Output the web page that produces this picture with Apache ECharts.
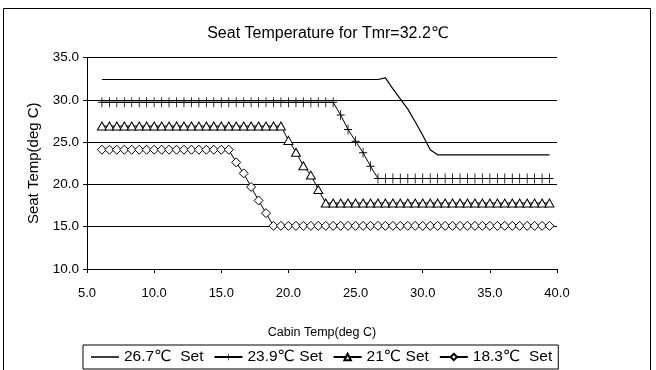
<!DOCTYPE html>
<html>
<head>
<meta charset="utf-8">
<script src="https://cdn.jsdelivr.net/npm/echarts@6/dist/echarts.min.js"></script>
<style>
html,body{margin:0;padding:0;background:#fff;}
#chart{width:656px;height:370px;}
</style>
</head>
<body>
<div id="chart"></div>
<script>
// Cabin temperature (deg C) - x values
var cabinTemp = [
  6.11, 6.67, 7.22, 7.78, 8.33, 8.89, 9.44, 10.00, 10.56, 11.11,
  11.67, 12.22, 12.78, 13.33, 13.89, 14.44, 15.00, 15.56, 16.11, 16.67,
  17.22, 17.78, 18.33, 18.89, 19.44, 20.00, 20.56, 21.11, 21.67, 22.22,
  22.78, 23.33, 23.89, 24.44, 25.00, 25.56, 26.11, 26.67, 27.22, 27.78,
  28.33, 28.89, 29.44, 30.00, 30.56, 31.11, 31.67, 32.22, 32.78, 33.33,
  33.89, 34.44, 35.00, 35.56, 36.11, 36.67, 37.22, 37.78, 38.33, 38.89,
  39.44
];
// Seat temperature for 26.7°C set
var set267 = [
  32.4, 32.4, 32.4, 32.4, 32.4, 32.4, 32.4, 32.4, 32.4, 32.4,
  32.4, 32.4, 32.4, 32.4, 32.4, 32.4, 32.4, 32.4, 32.4, 32.4,
  32.4, 32.4, 32.4, 32.4, 32.4, 32.4, 32.4, 32.4, 32.4, 32.4,
  32.4, 32.4, 32.4, 32.4, 32.4, 32.4, 32.4, 32.4, 32.6, 31.3,
  30.1, 28.9, 27.4, 25.8, 24.1, 23.5, 23.5, 23.5, 23.5, 23.5,
  23.5, 23.5, 23.5, 23.5, 23.5, 23.5, 23.5, 23.5, 23.5, 23.5,
  23.5
];
// Seat temperature for 23.9°C set
var set239 = [
  29.7, 29.7, 29.7, 29.7, 29.7, 29.7, 29.7, 29.7, 29.7, 29.7,
  29.7, 29.7, 29.7, 29.7, 29.7, 29.7, 29.7, 29.7, 29.7, 29.7,
  29.7, 29.7, 29.7, 29.7, 29.7, 29.7, 29.7, 29.7, 29.7, 29.7,
  29.7, 29.7, 28.2, 26.5, 25.1, 23.75, 22.15, 20.7, 20.7, 20.7,
  20.7, 20.7, 20.7, 20.7, 20.7, 20.7, 20.7, 20.7, 20.7, 20.7,
  20.7, 20.7, 20.7, 20.7, 20.7, 20.7, 20.7, 20.7, 20.7, 20.7,
  20.7
];
// Seat temperature for 21°C set
var set21 = [
  26.9, 26.9, 26.9, 26.9, 26.9, 26.9, 26.9, 26.9, 26.9, 26.9,
  26.9, 26.9, 26.9, 26.9, 26.9, 26.9, 26.9, 26.9, 26.9, 26.9,
  26.9, 26.9, 26.9, 26.9, 26.9, 25.2, 23.8, 22.2, 21.1, 19.4,
  17.8, 17.8, 17.8, 17.8, 17.8, 17.8, 17.8, 17.8, 17.8, 17.8,
  17.8, 17.8, 17.8, 17.8, 17.8, 17.8, 17.8, 17.8, 17.8, 17.8,
  17.8, 17.8, 17.8, 17.8, 17.8, 17.8, 17.8, 17.8, 17.8, 17.8,
  17.8
];
// Seat temperature for 18.3°C set
var set183 = [
  24.1, 24.1, 24.1, 24.1, 24.1, 24.1, 24.1, 24.1, 24.1, 24.1,
  24.1, 24.1, 24.1, 24.1, 24.1, 24.1, 24.1, 24.1, 22.6, 21.3,
  19.7, 18.1, 16.6, 15.1, 15.1, 15.1, 15.1, 15.1, 15.1, 15.1,
  15.1, 15.1, 15.1, 15.1, 15.1, 15.1, 15.1, 15.1, 15.1, 15.1,
  15.1, 15.1, 15.1, 15.1, 15.1, 15.1, 15.1, 15.1, 15.1, 15.1,
  15.1, 15.1, 15.1, 15.1, 15.1, 15.1, 15.1, 15.1, 15.1, 15.1,
  15.1
];
var seriesNames = ['26.7\u2103  Set', '23.9\u2103 Set', '21\u2103 Set', '18.3\u2103  Set'];
var titleText = 'Seat Temperature for Tmr=32.2\u2103';
var xAxisName = 'Cabin Temp(deg C)';
var yAxisName = 'Seat Temp(deg C)';

function pairs(ys) {
  var out = [];
  for (var i = 0; i < cabinTemp.length; i++) out.push([cabinTemp[i], ys[i]]);
  return out;
}

var FONT = '"Liberation Sans", Arial, "DejaVu Sans", sans-serif';
var plusPath = 'path://M4.5,0h1v10h-1z M0,4.5h10v1h-10z';
// plain line icon for the marker-less series (tiny corner dots fix the bounding box)
var lineIcon = 'path://M0,0h0.01v0.01h-0.01z M0,3.3h28v1.4h-28z M27.99,7.99h0.01v0.01h-0.01z';

var chart = echarts.init(document.getElementById('chart'), null, {renderer: 'canvas'});
chart.setOption({
  backgroundColor: '#fff',
  animation: false,
  graphic: [{
    type: 'rect',
    shape: {x: 3.5, y: 8.5, width: 647, height: 380},
    style: {fill: 'none', stroke: '#000', lineWidth: 1},
    silent: true
  }],
  title: {
    text: titleText,
    left: 'center',
    top: 21,
    textStyle: {fontFamily: FONT, fontSize: 16, fontWeight: 'normal', color: '#000'}
  },
  legend: {
    left: 83,
    top: 345,
    padding: [4, 6, 4, 8],
    borderColor: '#000',
    borderWidth: 1,
    itemWidth: 28,
    itemHeight: 8,
    itemGap: 10,
    textStyle: {fontFamily: FONT, fontSize: 15.5, color: '#000'},
    data: [
      {name: seriesNames[0], icon: lineIcon, itemStyle: {color: '#000'}},
      seriesNames[1], seriesNames[2], seriesNames[3]
    ]
  },
  grid: {left: 87, right: 99, top: 57.5, bottom: 101, containLabel: false},
  xAxis: {
    type: 'value',
    min: 5, max: 40, interval: 5,
    name: xAxisName,
    nameLocation: 'middle',
    nameGap: 57,
    nameTextStyle: {fontFamily: FONT, fontSize: 12.5, color: '#000'},
    axisLine: {show: true, lineStyle: {color: '#000', width: 1}},
    axisTick: {show: true, length: 4, lineStyle: {color: '#000'}},
    axisLabel: {fontFamily: FONT, fontSize: 13, color: '#000', margin: 18,
      formatter: function (v) { return v.toFixed(1); }},
    splitLine: {show: false}
  },
  yAxis: {
    type: 'value',
    min: 10, max: 35, interval: 5,
    name: yAxisName,
    nameLocation: 'middle',
    nameGap: 46,
    nameTextStyle: {fontFamily: FONT, fontSize: 15, color: '#000'},
    axisLine: {show: true, lineStyle: {color: '#000', width: 1}},
    axisTick: {show: true, length: 4, lineStyle: {color: '#000'}},
    axisLabel: {fontFamily: FONT, fontSize: 13.5, color: '#000', margin: 8,
      formatter: function (v) { return v.toFixed(1); }},
    splitLine: {show: true, lineStyle: {color: '#000', width: 1}}
  },
  series: [
    {
      name: seriesNames[0], type: 'line', data: pairs(set267),
      symbol: 'none', showSymbol: false,
      lineStyle: {color: '#000', width: 1.2},
      itemStyle: {color: '#000'}
    },
    {
      name: seriesNames[1], type: 'line', data: pairs(set239),
      symbol: plusPath, symbolSize: [8, 10],
      lineStyle: {color: '#000', width: 1},
      itemStyle: {color: '#000'}
    },
    {
      name: seriesNames[2], type: 'line', data: pairs(set21),
      symbol: 'triangle', symbolSize: [9, 8],
      lineStyle: {color: '#000', width: 1},
      itemStyle: {color: '#fff', borderColor: '#000', borderWidth: 1}
    },
    {
      name: seriesNames[3], type: 'line', data: pairs(set183),
      symbol: 'diamond', symbolSize: [9, 9],
      lineStyle: {color: '#000', width: 1},
      itemStyle: {color: '#fff', borderColor: '#000', borderWidth: 1}
    }
  ]
});
</script>
</body>
</html>
